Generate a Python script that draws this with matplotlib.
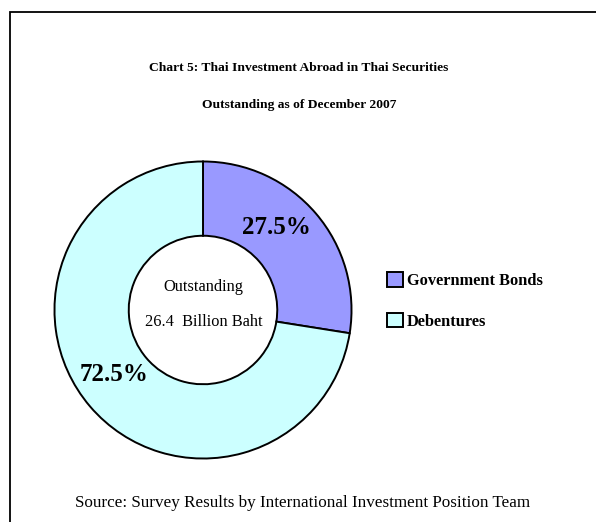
import matplotlib
matplotlib.use("Agg")
import matplotlib.pyplot as plt
from matplotlib.patches import Rectangle

categories = ["Government Bonds", "Debentures"]
shares = [27.5, 72.5]
pct_labels = ["27.5%", "72.5%"]
colors = ["#9999FF", "#CCFFFF"]
title1 = "Chart 5: Thai Investment Abroad in Thai Securities"
title2 = "Outstanding as of December 2007"
center1 = "Outstanding"
center2 = "26.4  Billion Baht"
source = "Source: Survey Results by International Investment Position Team"

W, H = 596, 522
DPI = 100
plt.rcParams['font.family'] = ['Liberation Serif', 'DejaVu Serif']
fig = plt.figure(figsize=(W / DPI, H / DPI), dpi=DPI)
fig.patch.set_facecolor("white")

def fx(x):
    return x / W

def fy(y):
    return 1 - y / H

# outer frame (runs off right and bottom edges)
fig.patches.append(Rectangle((fx(10), fy(540)), fx(620), fy(12) - fy(540),
                             transform=fig.transFigure, fill=False,
                             edgecolor="black", linewidth=1.3))

# pie axes: centre (203, 310), radius 150 px
cx, cy, r = 203, 310, 150
ax = fig.add_axes([fx(cx - r), fy(cy + r), fx(2 * r), (2 * r) / H])
wedges, _ = ax.pie(shares, colors=colors, startangle=90, counterclock=False,
                   radius=1.0,
                   wedgeprops=dict(width=0.5, edgecolor="black", linewidth=1.4))
ax.set_xlim(-1.01, 1.01)
ax.set_ylim(-1.01, 1.01)
ax.axis("off")

# percentage labels
ax.text((277 - cx) / r, (cy - 227) / r, pct_labels[0], ha="center", va="center",
        fontsize=18, fontweight="bold")
ax.text((113 - cx) / r, (cy - 375) / r, pct_labels[1], ha="center", va="center",
        fontsize=18, fontweight="bold")

# centre text
ax.text((203 - cx) / r, (cy - 287) / r, center1, ha="center", va="center", fontsize=11.8)
ax.text((204 - cx) / r, (cy - 322) / r, center2, ha="center", va="center", fontsize=11.8)

# titles
fig.text(fx(299), fy(68), title1, ha="center", va="center", fontsize=9.7, fontweight="bold")
fig.text(fx(299), fy(105), title2, ha="center", va="center", fontsize=9.7, fontweight="bold")

# legend
leg = fig.legend(wedges, categories, loc="upper left",
                 bbox_to_anchor=(fx(376), fy(261)), frameon=False,
                 prop=dict(family="Liberation Serif", weight="bold", size=11.8),
                 handlelength=0.95, handleheight=0.95, handletextpad=0.25,
                 labelspacing=1.45, borderpad=0.2)
for h in leg.legend_handles:
    h.set_linewidth(1.4)
    h.set_edgecolor("black")

# source
fig.text(fx(303), fy(503), source, ha="center", va="center", fontsize=12.3)

fig.savefig("out.png", dpi=DPI)
